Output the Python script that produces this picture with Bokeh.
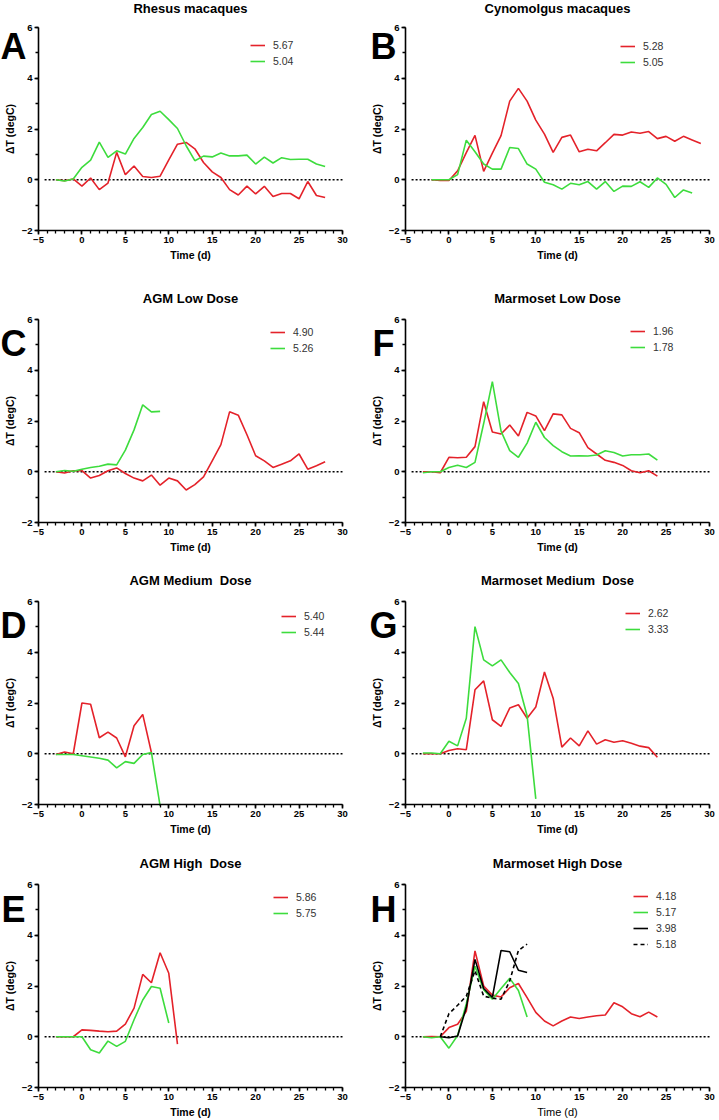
from bokeh.plotting import figure
from bokeh.layouts import column, row
from bokeh.models import Range1d, FixedTicker, Label, Legend, LegendItem
from bokeh.embed import file_html
from bokeh.resources import INLINE

# ---------------- data ----------------
x_ticks = [-5, 0, 5, 10, 15, 20, 25, 30]
y_ticks = [-2, 0, 2, 4, 6]

# A: Rhesus macaques
a_t = list(range(-3, 29))
a_red = [0.0, -0.04, 0.03, -0.25, 0.07, -0.39, -0.13, 1.08, 0.2, 0.54, 0.13, 0.09, 0.14, 0.78, 1.4, 1.47,
         1.22, 0.68, 0.31, 0.09, -0.39, -0.6, -0.25, -0.56, -0.26, -0.66, -0.54, -0.54, -0.75, -0.07, -0.62, -0.7]
a_green = [0.0, -0.05, 0.03, 0.49, 0.77, 1.48, 0.88, 1.14, 1.01, 1.63, 2.06, 2.57, 2.7, 2.37, 2.02, 1.34,
           0.75, 0.93, 0.9, 1.05, 0.94, 0.94, 0.97, 0.62, 0.89, 0.66, 0.87, 0.8, 0.81, 0.81, 0.62, 0.52]

# B: Cynomolgus macaques
b_red_t = list(range(-2, 30))
b_red = [0.0, -0.03, -0.03, 0.35, 1.07, 1.75, 0.33, 1.05, 1.74, 3.1, 3.6, 3.1, 2.35, 1.8, 1.08, 1.67,
         1.76, 1.1, 1.2, 1.14, 1.46, 1.79, 1.76, 1.88, 1.83, 1.9, 1.62, 1.71, 1.52, 1.71, 1.57, 1.43]
b_green_t = list(range(-2, 29))
b_green = [0.0, 0.0, 0.0, 0.2, 1.56, 1.1, 0.62, 0.42, 0.42, 1.27, 1.23, 0.62, 0.42, -0.1, -0.2, -0.37,
           -0.14, -0.2, -0.07, -0.37, -0.07, -0.46, -0.25, -0.26, -0.08, -0.3, 0.07, -0.18, -0.7, -0.4, -0.52]

# C: AGM Low Dose
c_red_t = list(range(-3, 29))
c_red = [0.0, -0.05, 0.04, 0.04, -0.25, -0.15, 0.04, 0.15, -0.07, -0.25, -0.36, -0.13, -0.53, -0.25, -0.36, -0.72,
         -0.51, -0.2, 0.43, 1.07, 2.36, 2.23, 1.46, 0.63, 0.43, 0.17, 0.3, 0.43, 0.7, 0.1, 0.24, 0.39]
c_green_t = list(range(-3, 10))
c_green = [0.0, 0.05, 0.02, 0.1, 0.17, 0.22, 0.3, 0.27, 0.85, 1.65, 2.64, 2.36, 2.38]

# F: Marmoset Low Dose
f_t = list(range(-3, 25))
f_red = [0.0, 0.0, -0.04, 0.57, 0.55, 0.57, 0.99, 2.76, 1.57, 1.49, 1.84, 1.41, 2.34, 2.2, 1.62, 2.28,
         2.24, 1.71, 1.54, 0.95, 0.7, 0.45, 0.37, 0.25, 0.04, -0.04, 0.04, -0.17]
f_green = [-0.04, 0.0, 0.0, 0.17, 0.26, 0.17, 0.37, 1.9, 3.55, 1.6, 0.83, 0.57, 1.13, 1.95, 1.35, 1.03,
           0.79, 0.62, 0.63, 0.62, 0.66, 0.83, 0.76, 0.62, 0.67, 0.67, 0.7, 0.46]

# D: AGM Medium Dose
d_red_t = list(range(-3, 9))
d_red = [-0.03, 0.07, 0.0, 2.0, 1.95, 0.63, 0.85, 0.62, -0.12, 1.1, 1.55, 0.05]
d_green_t = list(range(-3, 10))
d_green = [-0.03, -0.03, -0.03, -0.08, -0.13, -0.18, -0.25, -0.56, -0.31, -0.38, -0.03, 0.05, -2.05]

# G: Marmoset Medium Dose
g_red_t = list(range(-3, 25))
g_red = [0.0, 0.0, 0.0, 0.13, 0.2, 0.16, 2.52, 2.87, 1.34, 1.08, 1.8, 1.93, 1.4, 1.84, 3.22, 2.19,
         0.26, 0.62, 0.31, 0.9, 0.38, 0.55, 0.45, 0.51, 0.41, 0.3, 0.24, -0.14]
g_green_t = list(range(-3, 11))
g_green = [0.03, 0.03, 0.0, 0.49, 0.31, 1.4, 5.01, 3.7, 3.46, 3.7, 3.2, 2.77, 1.5, -1.78]

# E: AGM High Dose
e_red_t = list(range(-3, 12))
e_red = [0.0, 0.0, 0.0, 0.27, 0.25, 0.22, 0.2, 0.22, 0.5, 1.13, 2.46, 2.13, 3.31, 2.5, -0.29]
e_green_t = list(range(-3, 11))
e_green = [0.0, 0.0, 0.0, 0.0, -0.51, -0.64, -0.17, -0.38, -0.18, 0.67, 1.45, 1.98, 1.91, 0.54]

# H: Marmoset High Dose
h_red_t = list(range(-3, 25))
h_red = [0.0, 0.01, 0.0, 0.36, 0.49, 1.0, 3.38, 2.0, 1.64, 1.57, 1.93, 2.1, 1.54, 0.96, 0.62, 0.43,
         0.62, 0.78, 0.72, 0.78, 0.83, 0.86, 1.34, 1.18, 0.91, 0.79, 0.97, 0.78]
h_green_t = list(range(-3, 10))
h_green = [0.0, -0.04, 0.0, -0.45, 0.05, 1.3, 2.78, 1.85, 1.48, 1.9, 2.3, 1.82, 0.78]
h_black_t = list(range(-1, 10))
h_black = [0.0, -0.04, 0.03, 1.15, 3.05, 1.9, 1.55, 3.4, 3.35, 2.62, 2.53]
h_dash_t = list(range(-1, 10))
h_dash = [0.0, 0.91, 1.24, 1.6, 2.6, 1.6, 1.52, 1.48, 2.2, 3.4, 3.65]

# ---------------- layout / style ----------------
FONT = "Liberation Sans"
RED = "#e4222a"
GREEN = "#3ddc3d"
BLACK = "#000000"

AX_H = 203                      # px from y=-2 to y=6
AX_W = 304                      # px from x=-5 to x=30
ROW_H = [289, 282, 283, 266]
ROW_ABOVE = [27, 30, 30, 30]    # px above the y=6 line inside each figure
COL_W = [360, 359]
COL_GAP = [38, 45]              # px from figure left edge to the y axis
TITLE_UP = [19, 21, 21, 21]     # title centre above y=6 line
LETTER_DX = [25, 22]
LETTER_DY = [18.5, 24, 23.5, 24.5]

NB = "\u00a0"
panels = [
    # title, letter, series, legend dx, legend dy, row, col
    ("Rhesus macaques", "A", [(a_t, a_red, RED, "solid", "5.67"), (a_t, a_green, GREEN, "solid", "5.04")], 212, 18, 0, 0),
    ("Cynomolgus macaques", "B", [(b_red_t, b_red, RED, "solid", "5.28"), (b_green_t, b_green, GREEN, "solid", "5.05")], 215, 18.5, 0, 1),
    ("AGM Low Dose", "C", [(c_red_t, c_red, RED, "solid", "4.90"), (c_green_t, c_green, GREEN, "solid", "5.26")], 232, 13, 1, 0),
    ("Marmoset Low Dose", "F", [(f_t, f_red, RED, "solid", "1.96"), (f_t, f_green, GREEN, "solid", "1.78")], 225, 12, 1, 1),
    ("AGM Medium " + NB + "Dose", "D", [(d_red_t, d_red, RED, "solid", "5.40"), (d_green_t, d_green, GREEN, "solid", "5.44")], 243, 15, 2, 0),
    ("Marmoset Medium " + NB + "Dose", "G", [(g_red_t, g_red, RED, "solid", "2.62"), (g_green_t, g_green, GREEN, "solid", "3.33")], 220, 12, 2, 1),
    ("AGM High " + NB + "Dose", "E", [(e_red_t, e_red, RED, "solid", "5.86"), (e_green_t, e_green, GREEN, "solid", "5.75")], 235, 13, 3, 0),
    ("Marmoset High Dose", "H", [(h_red_t, h_red, RED, "solid", "4.18"), (h_green_t, h_green, GREEN, "solid", "5.17"),
                                 (h_black_t, h_black, BLACK, "solid", "3.98"), (h_dash_t, h_dash, BLACK, "4 3", "5.18")], 228, 12, 3, 1),
]


def make_panel(title, letter, series, ldx, ldy, r, c):
    px_x = AX_W / (x_ticks[-1] - x_ticks[0])
    px_y = AX_H / (y_ticks[-1] - y_ticks[0])
    right_gap = COL_W[c] - COL_GAP[c] - AX_W
    bottom = ROW_H[r] - ROW_ABOVE[r] - AX_H
    x0 = x_ticks[0] - COL_GAP[c] / px_x
    x1 = x_ticks[-1] + right_gap / px_x
    y0 = y_ticks[0] - bottom / px_y
    y1 = y_ticks[-1] + ROW_ABOVE[r] / px_y

    p = figure(width=COL_W[c], height=ROW_H[r], x_range=Range1d(x0, x1), y_range=Range1d(y0, y1),
               output_backend="svg", toolbar_location=None,
               min_border_left=0, min_border_right=0, min_border_top=0, min_border_bottom=0)
    p.outline_line_color = None
    p.xgrid.visible = False
    p.ygrid.visible = False
    p.background_fill_color = "white"
    p.border_fill_color = "white"

    p.xaxis.ticker = FixedTicker(ticks=x_ticks, minor_ticks=list(range(x_ticks[0], x_ticks[-1] + 1)))
    p.yaxis.ticker = FixedTicker(ticks=y_ticks, minor_ticks=list(range(y_ticks[0], y_ticks[-1] + 1)))
    p.xaxis.bounds = (x_ticks[0], x_ticks[-1])
    p.yaxis.bounds = (y_ticks[0], y_ticks[-1])
    p.yaxis.fixed_location = x_ticks[0]
    p.xaxis.fixed_location = y_ticks[0]
    p.xaxis.axis_label = "Time (d)"
    p.yaxis.axis_label = "\u0394T (degC)"
    for ax in (p.xaxis[0], p.yaxis[0]):
        ax.axis_line_width = 1.6
        ax.axis_line_color = "black"
        ax.major_tick_line_width = 1.6
        ax.minor_tick_line_width = 1.3
        ax.major_tick_out = 4
        ax.major_tick_in = 0
        ax.minor_tick_out = 3
        ax.minor_tick_in = 0
        ax.major_label_text_font = FONT
        ax.major_label_text_font_size = "9.5px"
        ax.major_label_text_font_style = "bold"
        ax.major_label_text_color = "black"
        ax.major_label_standoff = 2
        ax.axis_label_text_font = FONT
        ax.axis_label_text_font_size = "10.5px"
        ax.axis_label_text_font_style = "bold"
        ax.axis_label_text_color = "black"
        ax.axis_label_standoff = 3
    if letter == "H":
        p.xaxis.axis_label_text_font_style = "normal"
        p.xaxis.axis_label_text_font_size = "11px"

    # dotted zero reference line
    p.line([x_ticks[0] + 0.7, x_ticks[-1]], [0, 0], line_color="black", line_width=1.4, line_dash="2 2")

    items = []
    for t, y, col, dash, lab in series:
        rr = p.line(t, y, line_color=col, line_width=1.6, line_dash=dash)
        items.append(LegendItem(label=lab, renderers=[rr]))

    n = len(series)
    leg_h = n * 14 + (n - 1) * 2
    vy = bottom + AX_H - (ldy - 7) - leg_h
    legend = Legend(items=items, location=(COL_GAP[c] + ldx, vy), glyph_width=15, glyph_height=14,
                    label_height=14, label_width=20, label_standoff=8, spacing=2, padding=0, margin=0,
                    border_line_alpha=0, background_fill_alpha=0,
                    label_text_font=FONT, label_text_font_size="10.5px", label_text_color="#333333")
    p.add_layout(legend)

    # panel title
    p.add_layout(Label(x=(x_ticks[0] + x_ticks[-1]) / 2, y=y_ticks[-1] + TITLE_UP[r] / px_y, text=title,
                       text_font=FONT, text_font_size="13px", text_font_style="bold", text_color="black",
                       text_align="center", text_baseline="middle"))
    # panel letter
    p.add_layout(Label(x=x_ticks[0] - LETTER_DX[c] / px_x, y=y_ticks[-1] - LETTER_DY[r] / px_y, text=letter,
                       text_font=FONT, text_font_size="36px", text_font_style="bold", text_color="black",
                       text_align="center", text_baseline="middle"))
    return p


figs = [[None, None] for _ in range(4)]
for title, letter, series, ldx, ldy, r, c in panels:
    figs[r][c] = make_panel(title, letter, series, ldx, ldy, r, c)

layout = column(*[row(*figs[r]) for r in range(4)])
open("out.html", "w").write(file_html(layout, INLINE))
